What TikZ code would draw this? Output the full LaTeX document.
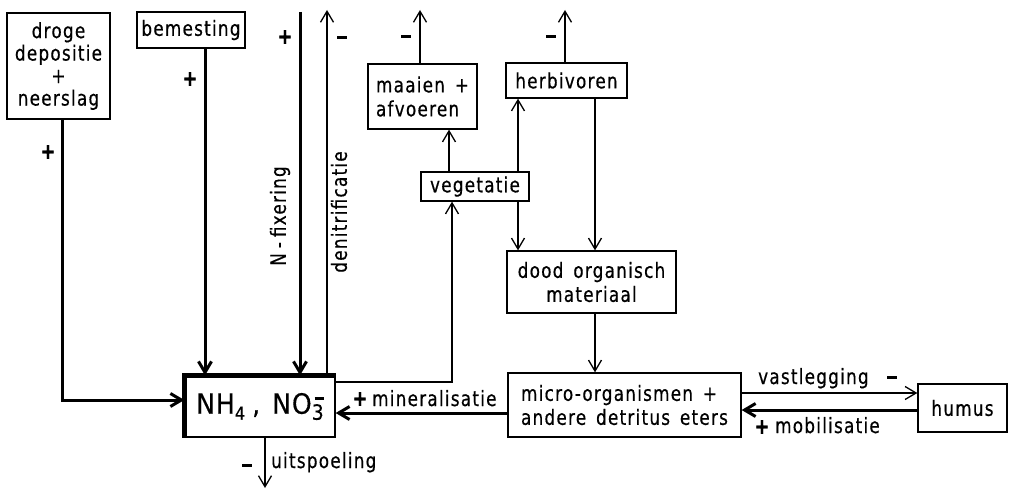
\documentclass[tikz,border=0pt]{standalone}
\usepackage{fontspec}
\setmainfont{DejaVu Sans}[FakeStretch=0.8,LetterSpace=6,WordSpace=1.5,FakeBold=0.5]
\newfontfamily\poolfont{DejaVu Sans}[FakeStretch=0.9,LetterSpace=3,FakeBold=0.3]
\usetikzlibrary{arrows.meta}
\newcommand{\minussign}{\rule[0pt]{10pt}{3pt}}
\begin{document}
\begin{tikzpicture}[x=1pt,y=-1pt,
  box/.style={draw,line width=1.3pt,inner sep=0pt,align=center,
    font=\fontsize{21}{24}\selectfont},
  thin/.style={line width=1.3pt},
  heavy/.style={line width=3pt},
  tip/.style={-{Straight Barb[length=11pt,width=13pt]}},
  lbl/.style={font=\fontsize{21}{22}\selectfont,inner sep=0pt},
  sign/.style={font=\fontsize{22}{22}\selectfont\bfseries,inner sep=0pt},
]
\useasboundingbox (0,0) rectangle (1013,492);

% compartments
\node[box,minimum width=103pt,minimum height=106pt,
  font=\fontsize{21}{22.5}\selectfont] (droge) at (58.5,66)
  {droge\\depositie\\+\\neerslag};
\node[box,minimum width=108pt,minimum height=36pt] (bem) at (191,30) {bemesting};
\node[box,minimum width=150pt,minimum height=61pt,
  font=\poolfont\fontsize{28}{30}\selectfont] (nh) at (260,406.5)
  {NH\raisebox{-6pt}{\fontsize{18}{18}\selectfont 4}\hspace{7pt},\hspace{12pt}NO\rlap{\raisebox{14pt}{\kern3pt\rule{9pt}{2.5pt}}}\raisebox{-6pt}{\fontsize{21}{21}\selectfont 3}};
\node[box,minimum width=108pt,minimum height=29pt] (veg) at (475,186.5) {vegetatie};
\node[box,minimum width=109pt,minimum height=65pt,align=left] (maai) at (422.5,96.5)
  {maaien +\\afvoeren};
\node[box,minimum width=121pt,minimum height=35pt] (herb) at (566.5,80.5) {herbivoren};
\node[box,minimum width=169pt,minimum height=62pt] (dood) at (591.5,282)
  {dood organisch\\materiaal};
\node[box,minimum width=233pt,minimum height=64pt,align=left] (micro) at (624.5,405)
  {micro-organismen +\\andere detritus eters};
\node[box,minimum width=89pt,minimum height=48pt] (humus) at (962.5,408) {humus};

% heavy frame of the mineral pool
\draw[line width=4.5pt] (nh.south west) -- (nh.north west) -- (nh.north east);

% guide coordinates for the vertical and horizontal runs
\coordinate (c1) at (62,0);
\coordinate (c2) at (205,0);
\coordinate (c3) at (452,0);
\coordinate (c4) at (449,0);
\coordinate (c5) at (518,0);
\coordinate (c6) at (595,0);
\coordinate (r1) at (0,400);
\coordinate (r2) at (0,382);
\coordinate (r3) at (0,413);
\coordinate (r4) at (0,393);
\coordinate (r5) at (0,410);
\coordinate (nfix) at (300,12);
\coordinate (dnit) at (327,10);
\coordinate (maaiout) at (420,10);
\coordinate (herbout) at (565,10);
\coordinate (uit) at (265,488);

% inputs
\draw[heavy,tip] (droge.south -| c1) |- (nh.west |- r1);
\draw[heavy,tip] (bem.south -| c2) -- (nh.north -| c2);
\draw[heavy,tip] (nfix) -- (nfix |- nh.north);
% outputs
\draw[thin,tip] (nh.north -| dnit) -- (dnit);
\draw[thin,tip] (nh.south -| uit) -- (uit);
\draw[thin,tip] (maai.north -| maaiout) -- (maaiout);
\draw[thin,tip] (herb.north -| herbout) -- (herbout);
% internal cycle
\draw[thin,tip] (nh.east |- r2) -| (veg.south -| c3);
\draw[thin,tip] (veg.north -| c4) -- (maai.south -| c4);
\draw[thin,tip] (veg.north -| c5) -- (herb.south -| c5);
\draw[thin,tip] (veg.south -| c5) -- (dood.north -| c5);
\draw[thin,tip] (herb.south -| c6) -- (dood.north -| c6);
\draw[thin,tip] (dood.south -| c6) -- (micro.north -| c6);
\draw[heavy,tip] (micro.west |- r3) -- (nh.east |- r3);
\draw[thin,tip] (micro.east |- r4) -- (humus.west |- r4);
\draw[heavy,tip] (humus.west |- r5) -- (micro.east |- r5);

% flow labels
\node[lbl,rotate=90] (lnfix) at (280,216) {N\kern5pt-\kern5pt fixering};
\node[lbl,rotate=90] (ldnit) at (339,212) {denitrificatie};
\node[lbl,anchor=base west] (lmin) at (372,406) {mineralisatie};
\node[lbl,anchor=base west] (lvast) at (758,384) {vastlegging};
\node[lbl,anchor=base west] (lmob) at (775,433) {mobilisatie};
\node[lbl,anchor=base west] (luit) at (271,468) {uitspoeling};

% signs
\node[sign] (sdr) at (48,152) {+};
\node[sign] (sbe) at (190,79) {+};
\node[sign] (snf) at (285,37) {+};
\node[sign] (sdn) at (342,38) {\minussign};
\node[sign] (sma) at (406,37) {\minussign};
\node[sign] (she) at (551,37) {\minussign};
\node[sign] (smi) at (360,399) {+};
\node[sign] (sva) at (892,377) {\minussign};
\node[sign] (smo) at (762,427) {+};
\node[sign] (sui) at (247,465) {\minussign};
\end{tikzpicture}
\end{document}
